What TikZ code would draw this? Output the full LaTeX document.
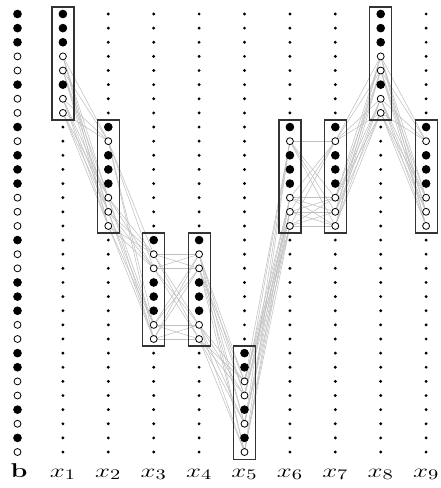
\documentclass[tikz,border=0pt]{standalone}
\usepackage{graphicx}
\usetikzlibrary{backgrounds}
\begin{document}
\begin{tikzpicture}[x=0.75pt,y=-0.75pt,
  whitec/.style={circle,draw=black,fill=white,line width=0.6pt,minimum size=5.2pt,inner sep=0pt},
  blackc/.style={circle,draw=black,fill=black,line width=0.6pt,minimum size=5.8pt,inner sep=0pt},
  smalldot/.style={circle,fill=black,minimum size=2.4pt,inner sep=0pt},
  boxst/.style={draw=black!80,line width=0.9pt,minimum width=16.5pt,minimum height=84.8pt,inner sep=0pt},
  conn/.style={draw=black!25,line width=0.4pt},
  lab/.style={anchor=base,font=\fontsize{15}{18}\selectfont,inner sep=0pt}]
\useasboundingbox (0,0) rectangle (440,488);
\def\pat{{1,1,1,0,0,1,0,0,1,0,1,1,1,0,0,0,1,0,0,1,1,1,0,0,1,1,0,0,1,0,1,0}}
\def\starts{{0,1,9,17,17,25,9,9,1,9}}
% nodes
\foreach \k in {0,...,9} {
  \foreach \i in {1,...,32} {
    \pgfmathtruncatemacro\s{\starts[\k]}
    \pgfmathtruncatemacro\v{\pat[\i-1]}
    \pgfmathtruncatemacro\inbox{(\k==0) || ((\i>\s-1) && (\i<\s+8))}
    \pgfmathsetmacro\xx{17.5+45.4*\k}
    \pgfmathsetmacro\yy{14+(\i-1)*14.13}
    \ifnum\inbox=1
      \ifnum\v=1
        \node[blackc] (n-\k-\i) at (\xx,\yy) {};
      \else
        \node[whitec] (n-\k-\i) at (\xx,\yy) {};
      \fi
    \else
      \node[smalldot] (n-\k-\i) at (\xx,\yy) {};
    \fi
  }
}
% boxes
\foreach \k in {1,...,9} {
  \pgfmathtruncatemacro\s{\starts[\k]}
  \pgfmathsetmacro\xx{17.5+45.4*\k}
  \pgfmathsetmacro\yy{14+(\s-1)*14.13+3.5*14.13}
  \node[boxst] (box-\k) at (\xx,\yy) {};
}
% connections
\begin{scope}[on background layer]
\foreach \k in {1,...,8} {
  \pgfmathtruncatemacro\sa{\starts[\k]}
  \pgfmathtruncatemacro\sb{\starts[\k+1]}
  \pgfmathtruncatemacro\kn{\k+1}
  \foreach \a in {0,...,7} {
    \foreach \b in {0,...,7} {
      \pgfmathtruncatemacro\ia{\sa+\a}
      \pgfmathtruncatemacro\ib{\sb+\b}
      \pgfmathtruncatemacro\va{\pat[\ia-1]}
      \pgfmathtruncatemacro\vb{\pat[\ib-1]}
      \ifnum\va=0 \ifnum\vb=0 \draw[conn] (n-\k-\ia.center) -- (n-\kn-\ib.center); \fi\fi
    }
  }
}
\end{scope}
% labels
\node[lab] (lb) at (19,477) {\scalebox{1.35}[1]{\textbf{b}}};
\foreach \k in {1,...,9} {
  \pgfmathsetmacro\xx{17.5+45.4*\k}
  \node[lab] (lx-\k) at (\xx,477) {\scalebox{1.4}[1]{$x_{\k}$}};
}
\end{tikzpicture}
\end{document}
